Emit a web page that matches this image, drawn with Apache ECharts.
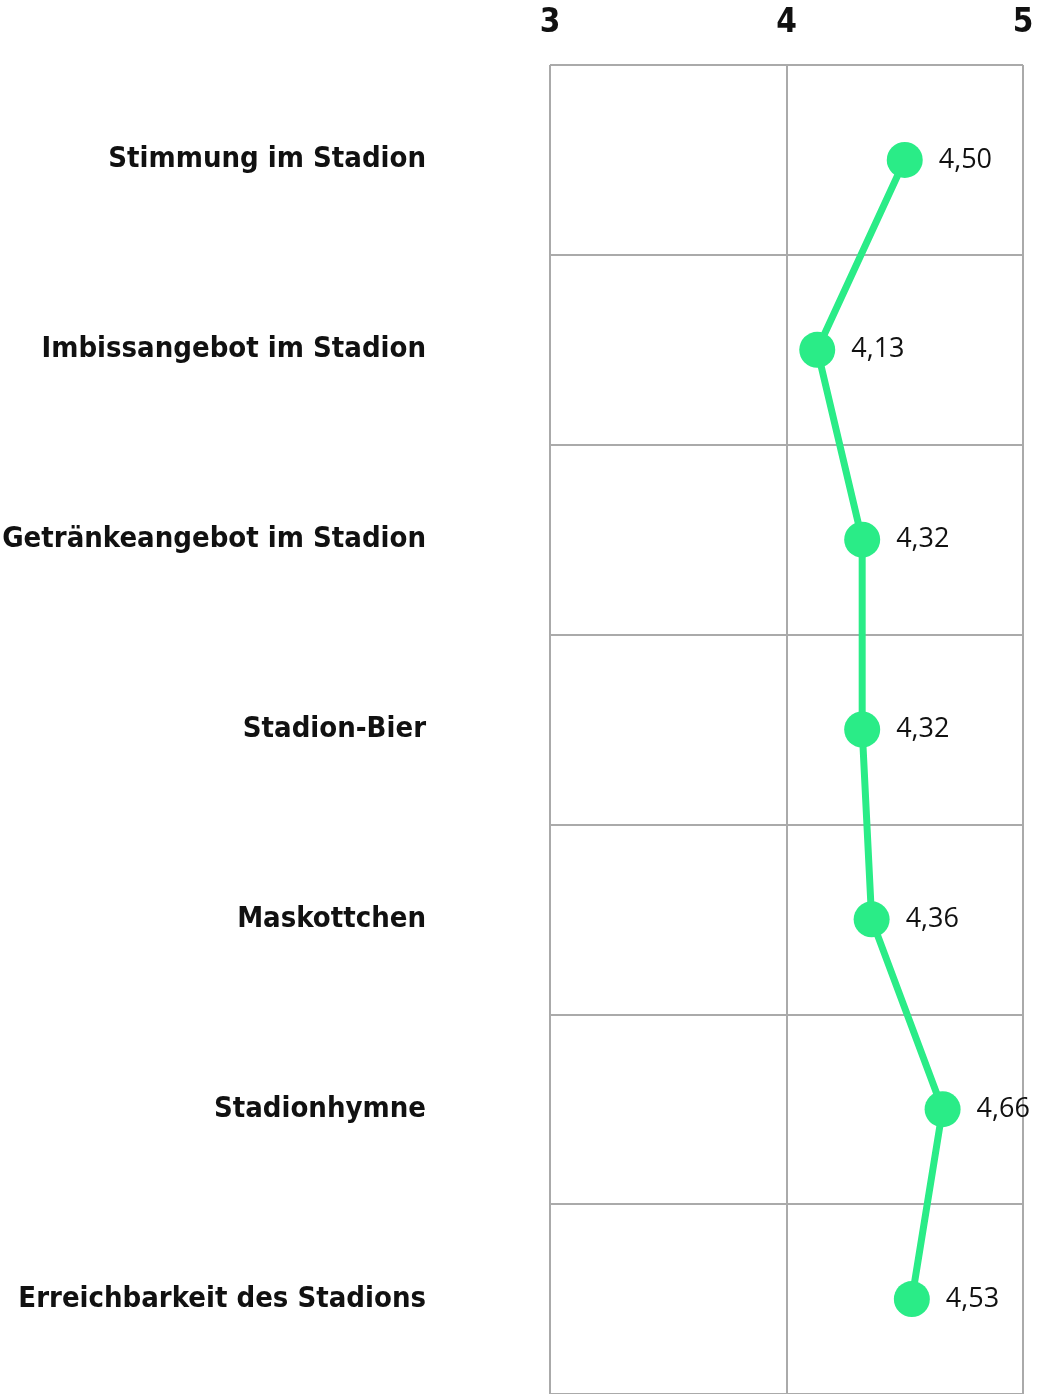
<!DOCTYPE html>
<html>
<head>
<meta charset="utf-8">
<script src="https://cdn.jsdelivr.net/npm/echarts@6/dist/echarts.min.js"></script>
<style>
  html, body { margin: 0; padding: 0; background: #fff; }
  #chart { width: 1037px; height: 1394px; }
</style>
</head>
<body>
<div id="chart"></div>
<script>
// Kategorien von oben nach unten
var categories = [
    'Stimmung im Stadion',
    'Imbissangebot im Stadion',
    'Getränkeangebot im Stadion',
    'Stadion-Bier',
    'Maskottchen',
    'Stadionhymne',
    'Erreichbarkeit des Stadions'
];
var values = [4.50, 4.13, 4.32, 4.32, 4.36, 4.66, 4.53];
var xTicks = [3, 4, 5];

var myChart = echarts.init(document.getElementById('chart'));

var condensed = '"DejaVu Sans Condensed", Roboto, sans-serif';

var option = {
    animation: false,
    grid: { left: 550, right: 14, top: 65, bottom: 0, containLabel: false, outerBoundsMode: 'none' },
    xAxis: {
        type: 'value',
        position: 'top',
        min: xTicks[0],
        max: xTicks[xTicks.length - 1],
        interval: 1,
        axisLine: { show: false },
        axisTick: { show: false },
        axisLabel: {
            margin: 25,
            fontFamily: condensed,
            fontWeight: 'bold',
            fontSize: 33,
            color: '#111',
            formatter: function (v) { return String(v); }
        },
        splitLine: { show: true, lineStyle: { color: '#aaaaaa', width: 2 } }
    },
    yAxis: {
        type: 'category',
        inverse: true,
        data: categories,
        axisLine: { show: false },
        axisTick: { show: false },
        axisLabel: {
            margin: 124,
            fontFamily: condensed,
            fontWeight: 'bold',
            fontSize: 29,
            color: '#111'
        },
        splitLine: { show: true, lineStyle: { color: '#aaaaaa', width: 2 } }
    },
    series: [{
        type: 'line',
        data: values,
        symbol: 'circle',
        symbolSize: 36,
        lineStyle: { color: '#2aec87', width: 7 },
        itemStyle: { color: '#2aec87' },
        label: {
            show: true,
            position: 'right',
            distance: 16,
            fontFamily: '"Open Sans", "Noto Sans", sans-serif',
            fontSize: 27,
            color: '#111',
            formatter: function (p) { return p.value.toFixed(2).replace('.', ','); }
        }
    }]
};

myChart.setOption(option);

window.addEventListener('resize', function () {
    myChart.resize();
});
</script>
</body>
</html>
